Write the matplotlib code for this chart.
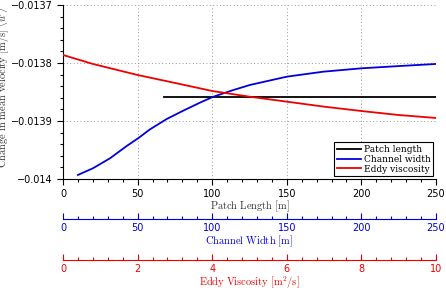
import numpy as np
import matplotlib.pyplot as plt

plt.rcParams['mathtext.fontset'] = 'cm'

# patch length [m] (constant result)
patch_x = [68, 250]
patch_y = [-0.0138586, -0.0138586]

# channel width [m]
width_x = [10, 20, 31.5, 42.7, 50.3, 58.3, 69.5, 80.6, 91.8, 100.3, 114.2,
           125.3, 150, 174.5, 200, 226, 250]
width_y = [-0.0139930, -0.0139816, -0.0139643, -0.0139431, -0.0139299,
           -0.0139144, -0.0138966, -0.0138822, -0.0138684, -0.0138586,
           -0.0138466, -0.0138379, -0.0138236, -0.0138150, -0.0138092,
           -0.0138052, -0.0138017]

# eddy viscosity [m^2/s]
eddy_x = [0, 0.8, 2, 3.05, 4, 5, 6, 7, 8, 9, 10]
eddy_y = [-0.0137862, -0.0138017, -0.0138207, -0.0138351, -0.0138483,
          -0.0138581, -0.0138667, -0.0138753, -0.0138828, -0.0138897,
          -0.0138948]

fs = 7
fig = plt.figure(figsize=(4.46, 2.92), dpi=100)
ax = fig.add_axes([0.1413, 0.387, 0.8363, 0.5960])

ax_w = ax.twiny()
ax_e = ax.twiny()

l1, = ax.plot(patch_x, patch_y, color='black', lw=1.3)
l2, = ax_w.plot(width_x, width_y, color='#0000dd', lw=1.3)
l3, = ax_e.plot(eddy_x, eddy_y, color='#ee0000', lw=1.3)

ax.set_xlim(0, 250)
ax_w.set_xlim(0, 250)
ax_e.set_xlim(0, 10)
ax.set_ylim(-0.014, -0.0137)
ax.set_yticks([-0.014, -0.0139, -0.0138, -0.0137])
ax.set_yticklabels(['\u22120.014', '\u22120.0139', '\u22120.0138', '\u22120.0137'])
ax.set_yticks(np.arange(-0.014, -0.0137, 0.00002), minor=True)
ax.set_xticks([0, 50, 100, 150, 200, 250])
ax.set_xticks(np.arange(0, 251, 10), minor=True)

ax.grid(True, which='major', color='#999999', ls=(0, (1, 2.5)), lw=0.7)
for s in ['top', 'right']:
    ax.spines[s].set_visible(False)
ax.tick_params(which='both', direction='out', labelsize=fs, width=0.8)
ax.tick_params(which='major', length=4)
ax.tick_params(which='minor', length=2.5)
ax.tick_params(axis='x', pad=3)
ax.set_xlabel(r'$\mathrm{Patch\ Length\ [m]}$', fontsize=fs + 0.5, color='#333333', labelpad=0)
ax.set_ylabel(r"$\mathrm{Change\ in\ mean\ velocity\ [m/s]\ }\langle u'\rangle$",
              fontsize=fs + 0.5, color='#333333')
ax.yaxis.set_label_coords(-0.137, 0.53)

for a, col, off, ticks, minor, lab in [
        (ax_w, '#0000dd', 28.8, [0, 50, 100, 150, 200, 250], np.arange(0, 251, 10),
         r'$\mathrm{Channel\ Width\ [m]}$'),
        (ax_e, '#ee0000', 58.3, [0, 2, 4, 6, 8, 10], np.arange(0, 10.1, 0.4),
         r'$\mathrm{Eddy\ Viscosity\ [m^2/s]}$')]:
    a.xaxis.set_ticks_position('bottom')
    a.xaxis.set_label_position('bottom')
    for s in ['top', 'right', 'left']:
        a.spines[s].set_visible(False)
    a.spines['bottom'].set_position(('outward', off))
    a.spines['bottom'].set_color(col)
    a.set_xticks(ticks)
    a.set_xticks(minor, minor=True)
    a.tick_params(which='both', direction='in', colors=col, labelsize=fs, width=0.8, pad=3)
    a.tick_params(which='major', length=4)
    a.tick_params(which='minor', length=2.5)
    a.set_xlabel(lab, fontsize=fs + 0.5, color=col, labelpad=0)

leg = ax_e.legend([l1, l2, l3], ['Patch length', 'Channel width', 'Eddy viscosity'],
                  loc='lower right', prop={'family': 'DejaVu Serif', 'size': 6.5},
                  fancybox=False, edgecolor='black', framealpha=1,
                  handlelength=2.7, handletextpad=0.3, borderpad=0.3,
                  labelspacing=0.1, borderaxespad=0.3)
leg.get_frame().set_linewidth(0.8)

fig.savefig('out.png', dpi=100)
